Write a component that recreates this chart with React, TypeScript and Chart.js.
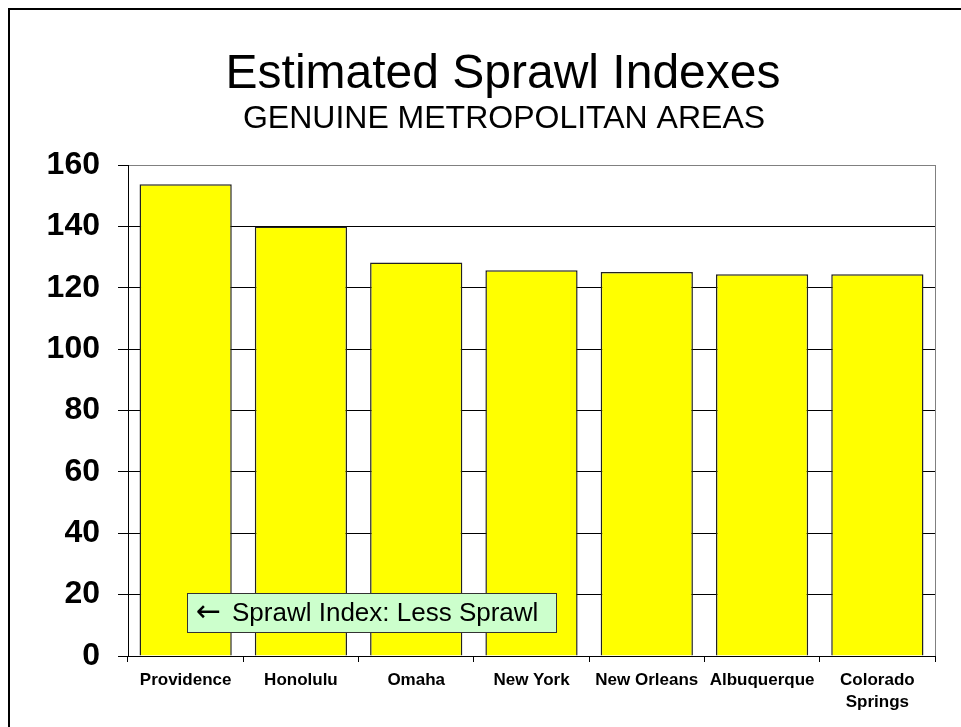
import React, { useEffect, useRef } from 'react';
import { Chart, registerables } from 'chart.js';

Chart.register(...registerables);

const categories: (string | string[])[] = [
  'Providence',
  'Honolulu',
  'Omaha',
  'New York',
  'New Orleans',
  'Albuquerque',
  ['Colorado', 'Springs'],
];
const sprawlIndex = [153.7, 140.0, 128.2, 125.7, 125.1, 124.4, 124.4];
const yMin = 0;
const yMax = 160;
const yStep = 20;
const titleText = 'Estimated Sprawl Indexes';
const subtitleText = 'GENUINE METROPOLITAN AREAS';
const noteArrow = '\u2190';
const noteText = 'Sprawl Index: Less Sprawl';

const FONT = '"Liberation Sans", Arial, sans-serif';

const decorPlugin = {
  id: 'decor',
  beforeDraw(chart: any) {
    const { ctx, width, height } = chart;
    ctx.save();
    ctx.fillStyle = '#ffffff';
    ctx.fillRect(0, 0, width, height);
    ctx.restore();
  },
  afterDraw(chart: any) {
    const { ctx, chartArea } = chart;
    ctx.save();
    // outer frame
    ctx.strokeStyle = '#000';
    ctx.lineWidth = 2;
    ctx.strokeRect(9, 9, 1000, 800);
    // titles
    ctx.fillStyle = '#000';
    ctx.textAlign = 'center';
    ctx.textBaseline = 'alphabetic';
    ctx.font = `48px ${FONT}`;
    ctx.fillText(titleText, 503, 88);
    ctx.font = `32px ${FONT}`;
    ctx.fillText(subtitleText, 504, 128);
    // right plot border (gray)
    ctx.strokeStyle = '#808080';
    ctx.lineWidth = 1;
    ctx.beginPath();
    ctx.moveTo(chartArea.right + 0.5, chartArea.top);
    ctx.lineTo(chartArea.right + 0.5, chartArea.bottom);
    ctx.stroke();
    // annotation box
    const bx = chartArea.left + 59;
    const by = chartArea.bottom - 63;
    const bw = 369;
    const bh = 39;
    ctx.fillStyle = '#CCFFCC';
    ctx.fillRect(bx, by, bw, bh);
    ctx.strokeStyle = '#333';
    ctx.lineWidth = 1;
    ctx.strokeRect(bx + 0.5, by + 0.5, bw, bh);
    ctx.fillStyle = '#000';
    ctx.textAlign = 'left';
    ctx.textBaseline = 'middle';
    ctx.font = `30px "DejaVu Sans", sans-serif`;
    ctx.fillText(noteArrow, bx + 9, by + bh / 2 + 1);
    ctx.font = `26px ${FONT}`;
    ctx.fillText(noteText, bx + 45, by + bh / 2 + 1);
    ctx.restore();
  },
};

export default function App() {
  const ref = useRef<HTMLCanvasElement | null>(null);

  useEffect(() => {
    if (!ref.current) return;
    const chart = new Chart(ref.current, {
      type: 'bar',
      data: {
        labels: categories as any,
        datasets: [
          {
            data: sprawlIndex,
            backgroundColor: '#FFFF00',
            borderColor: '#222222',
            borderWidth: 1.5,
            barPercentage: 0.8,
            categoryPercentage: 1.0,
          },
        ],
      },
      options: {
        animation: false,
        responsive: false,
        devicePixelRatio: 1,
        layout: { padding: { left: 0, top: 165, right: 26, bottom: 0 } },
        plugins: {
          legend: { display: false },
          title: { display: false },
          tooltip: { enabled: false },
        },
        scales: {
          x: {
            afterFit: (scale: any) => {
              scale.height = 71;
            },
            grid: {
              display: true,
              drawOnChartArea: false,
              offset: true,
              tickLength: 6,
              color: '#000',
            },
            border: { display: true, color: '#000', width: 1 },
            ticks: {
              color: '#000',
              padding: 8,
              maxRotation: 0,
              autoSkip: false,
              font: { family: FONT, size: 17, weight: 'bold', lineHeight: 1.25 },
            },
          },
          y: {
            min: yMin,
            max: yMax,
            afterFit: (scale: any) => {
              scale.width = 128;
            },
            grid: {
              color: (c: any) => (c.tick && c.tick.value === yMax ? '#808080' : '#000'),
              tickColor: '#000',
              tickLength: 10,
            },
            border: { display: true, color: '#000', width: 1 },
            ticks: {
              stepSize: yStep,
              color: '#000',
              padding: 18,
              font: { family: FONT, size: 32, weight: 'bold' },
            },
          },
        },
      },
      plugins: [decorPlugin],
    } as any);
    return () => chart.destroy();
  }, []);

  return (
    <div style={{ position: 'fixed', left: 0, top: 0, width: 961, height: 727 }}>
      <canvas ref={ref} width={961} height={727} style={{ display: 'block', width: 961, height: 727 }} />
    </div>
  );
}
